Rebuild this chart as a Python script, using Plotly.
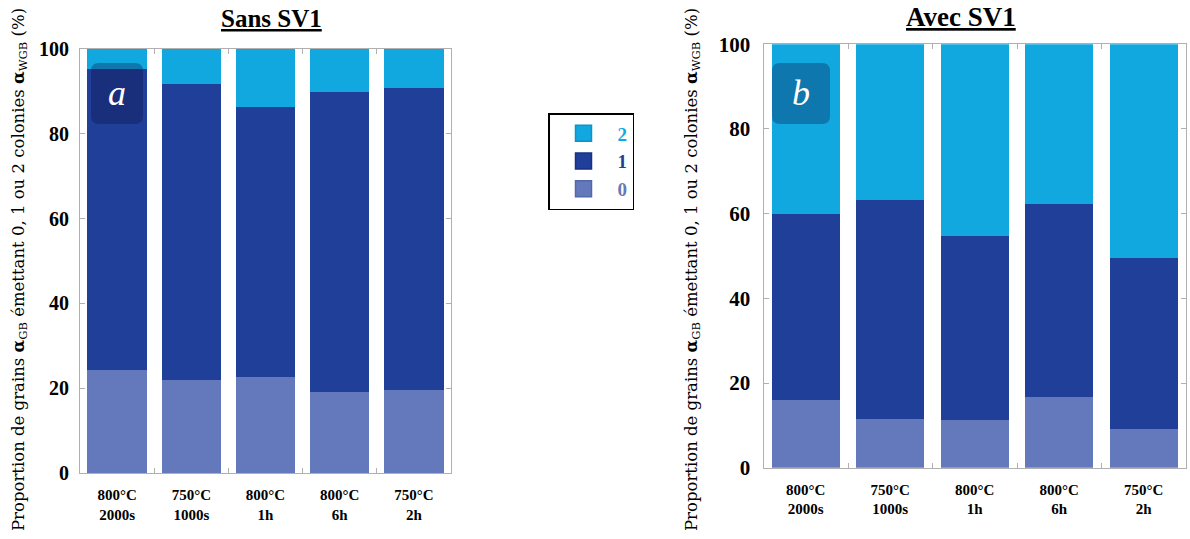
import plotly.graph_objects as go

W, H = 1190, 539
OFF = 0  # page body margin removed via post_script

categories = ["800°C<br>2000s", "750°C<br>1000s", "800°C<br>1h", "800°C<br>6h", "750°C<br>2h"]
series_names = ["0", "1", "2"]

sans_0 = [24.3, 22.0, 22.7, 19.1, 19.6]
sans_1 = [70.9, 69.7, 63.7, 70.8, 71.3]
sans_2 = [4.8, 8.3, 13.6, 10.1, 9.1]

avec_0 = [16.0, 11.6, 11.2, 16.7, 9.2]
avec_1 = [44.0, 51.7, 43.5, 45.6, 40.3]
avec_2 = [40.0, 36.7, 45.3, 37.7, 50.5]

colors = {"0": "#6479bb", "1": "#203f99", "2": "#11a7df"}
edge = {"0": "#5368a8", "1": "#173285", "2": "#0d93c6"}

SERIF = "Liberation Serif, Times New Roman, serif"
TITLE_SERIF = "DejaVu Serif, serif"

fig = go.Figure()

for name, vals in zip(series_names, [sans_0, sans_1, sans_2]):
    fig.add_trace(go.Bar(
        x=categories, y=vals, xaxis="x", yaxis="y",
        marker=dict(color=colors[name], line=dict(width=0)),
        name=name, legendgroup=name, showlegend=False,
    ))
for name, vals in zip(series_names, [avec_0, avec_1, avec_2]):
    fig.add_trace(go.Bar(
        x=categories, y=vals, xaxis="x2", yaxis="y2",
        marker=dict(color=colors[name], line=dict(width=0)),
        name=name, legendgroup=name, showlegend=False,
    ))
# legend entries (larger square swatches)
for name in series_names:
    fig.add_trace(go.Scatter(
        x=[None], y=[None], xaxis="x", yaxis="y", mode="markers",
        marker=dict(symbol="square", size=16, color=colors[name],
                    line=dict(color=edge[name], width=1.5)),
        name=f"<b><span style='color:{colors[name]}'>{name}</span></b>",
        legendgroup=name, showlegend=True,
    ))


def px2paper(x, y):
    return (x - OFF) / W, 1 - (y - OFF) / H


def hdom(a, b):
    return [(a - OFF) / W, (b - OFF) / W]


def vdom(top, bottom):
    return [1 - (bottom - OFF) / H, 1 - (top - OFF) / H]


axis_common = dict(
    showline=True, linecolor="#b0b0b0", linewidth=1, mirror="ticks",
    ticks="inside", tickcolor="#b0b0b0", ticklen=5, showgrid=False, zeroline=False,
    automargin=False,
)

fig.update_layout(
    width=W, height=H,
    margin=dict(l=0, r=0, t=0, b=0, pad=0),
    paper_bgcolor="white", plot_bgcolor="white",
    barmode="stack", bargap=0.2,
    font=dict(family=SERIF, color="black"),
    xaxis=dict(domain=hdom(80, 451), anchor="y", tickson="boundaries",
               tickfont=dict(size=15, family=SERIF), ticklabelstandoff=8,
               **axis_common),
    yaxis=dict(domain=vdom(49, 473), anchor="x", range=[0, 100], dtick=20,
               tickfont=dict(size=20, family=SERIF), ticklabelstandoff=6,
               tickprefix="<b>", ticksuffix="</b>", **axis_common),
    xaxis2=dict(domain=hdom(763.5, 1186), anchor="y2", tickson="boundaries",
                tickfont=dict(size=15, family=SERIF), ticklabelstandoff=8,
                **axis_common),
    yaxis2=dict(domain=vdom(44.3, 467.7), anchor="x2", range=[0, 100], dtick=20,
                tickfont=dict(size=21, family=SERIF), ticklabelstandoff=8,
                tickprefix="<b>", ticksuffix="</b>", **axis_common),
    legend=dict(
        x=px2paper(548, 113)[0], y=px2paper(548, 113)[1], xanchor="left", yanchor="top",
        traceorder="reversed", bordercolor="black", borderwidth=1.5,
        bgcolor="white", font=dict(size=19, family=SERIF),
        itemwidth=58, tracegroupgap=2, itemsizing="trace",
    ),
)

fig.update_xaxes(ticktext=[f"<b>{c}</b>" for c in categories], tickvals=categories)


def label(x, y, text, size, family=SERIF, color="black", angle=0):
    px, py = px2paper(x, y)
    fig.add_annotation(x=px, y=py, xref="paper", yref="paper", text=text,
                       xanchor="center", yanchor="middle", showarrow=False, borderpad=0,
                       textangle=angle, font=dict(size=size, family=family, color=color))


# Panel titles
label(271, 19, "<b><u>Sans SV1</u></b>", 25)
label(961, 17, "<b><u>Avec SV1</u></b>", 27)

ytitle = ("Proportion de grains <b>α</b><sub>GB</sub> émettant 0, 1 ou 2 colonies "
          "<b>α</b><sub>WGB</sub> (%)")
label(19, 270, ytitle, 16.5, family=TITLE_SERIF, angle=-90)
label(692, 270, ytitle, 16.5, family=TITLE_SERIF, angle=-90)


# Panel letter boxes (rounded rects)
def rounded_rect(x0, y0, x1, y1, r):
    def P(x, y):
        px, py = px2paper(x, y)
        return f"{px:.5f},{py:.5f}"
    return (f"M {P(x0 + r, y0)} L {P(x1 - r, y0)} Q {P(x1, y0)} {P(x1, y0 + r)} "
            f"L {P(x1, y1 - r)} Q {P(x1, y1)} {P(x1 - r, y1)} L {P(x0 + r, y1)} "
            f"Q {P(x0, y1)} {P(x0, y1 - r)} L {P(x0, y0 + r)} Q {P(x0, y0)} {P(x0 + r, y0)} Z")


for (x0, y0, x1, y1, letter) in [(91, 63, 143, 124, "a"), (772, 63, 830, 124, "b")]:
    fig.add_shape(type="path", xref="paper", yref="paper",
                  path=rounded_rect(x0, y0, x1, y1, 8),
                  fillcolor="rgba(10,10,60,0.30)", line=dict(width=0), layer="above")
    label((x0 + x1) / 2, (y0 + y1) / 2, f"<i>{letter}</i>", 36, color="white")

fig.write_html("out.html", config={"displayModeBar": False},
               post_script="document.body.style.margin='0px';document.body.style.overflow='hidden';")
